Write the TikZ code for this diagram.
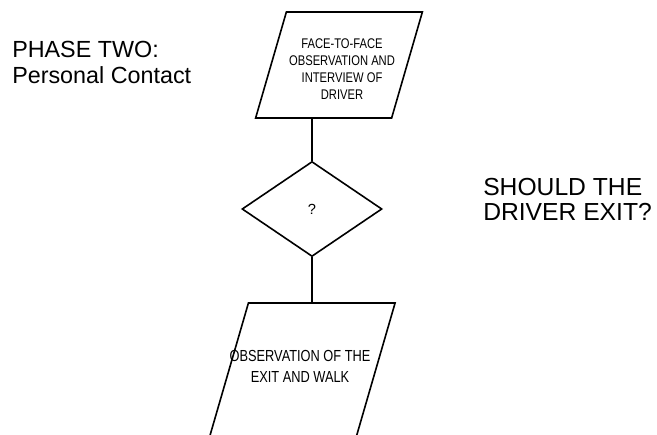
\documentclass[tikz,border=0pt]{standalone}
\usepackage{fontspec}
\setmainfont{Liberation Sans}
\newfontfamily\narrowfont[FakeStretch=0.8]{Liberation Sans}
\usetikzlibrary{shapes.geometric}

\tikzset{
  iobox/.style={draw, line width=1.2pt, rectangle, inner sep=0pt,
    transform shape, yscale=-1, xslant=0.29},
  decision/.style={draw, line width=1.2pt, diamond, inner sep=0pt,
    minimum width=105pt, minimum height=71.25pt},
  flowline/.style={line width=1.2pt},
  boxtext/.style={align=center, inner sep=0pt},
  heading/.style={align=left, anchor=west, inner sep=0pt},
}

\begin{document}
\begin{tikzpicture}[x=0.75pt,y=0.75pt,yscale=-1,xscale=1]
\useasboundingbox (0,0) rectangle (657,435);
\clip (0,0) rectangle (657,435);

% Phase title
\node[heading, font=\fontsize{17.5}{19.5}\selectfont] (phase) at (12,62) {PHASE TWO:\\Personal Contact};
% Question
\node[heading, font=\fontsize{18.5}{18.75}\selectfont] (question) at (483,199.5) {SHOULD THE\\DRIVER EXIT?};

% Input box
\node[iobox, minimum width=102pt, minimum height=79.5pt] (interview) at (339,65) {};
\node[boxtext, font=\narrowfont\fontsize{10.5}{12.75}\selectfont] (interviewText) at (342,69)
  {FACE-TO-FACE\\OBSERVATION AND\\INTERVIEW OF\\DRIVER};

% Decision
\node[decision, font=\fontsize{11}{13}\selectfont] (decide) at (312,209) {?};

% Output box
\node[iobox, minimum width=110pt, minimum height=112.5pt] (walk) at (300,378) {};
\node[boxtext, font=\narrowfont\fontsize{12}{15.75}\selectfont] (walkText) at (300,366)
  {OBSERVATION OF THE\\EXIT AND WALK};

% Connectors
\draw[flowline] (interview.south -| decide.north) -- (decide.north);
\draw[flowline] (decide.south) -- (decide.south |- walk.north);

\end{tikzpicture}
\end{document}
